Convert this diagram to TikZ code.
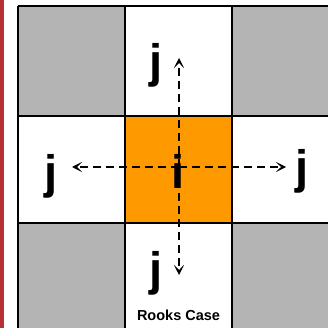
\documentclass[tikz,border=0pt]{standalone}
\usepackage{fontspec}
\setmainfont{Liberation Sans}
\definecolor{cellgray}{RGB}{180,180,180}
\definecolor{cellorange}{RGB}{255,153,0}
\definecolor{barred}{RGB}{183,48,52}
\tikzset{
    letter/.style={font=\fontsize{47}{47}\selectfont\bfseries, inner sep=0pt, anchor=base},
    move/.style={-{Stealth[length=10pt,width=10pt,inset=5pt]}, line width=1.8pt, dash pattern=on 8pt off 5pt},
    gridline/.style={line width=2pt, black}
}
\usetikzlibrary{arrows.meta}
\begin{document}
\begin{tikzpicture}[x=1pt,y=-1pt]
    \useasboundingbox (0,0) rectangle (328,328);
    \clip (0,0) rectangle (328,328);
    % 左边红条
    \fill[barred] (0,0) rectangle (4.3,328);

    % 格子
    \fill[cellgray] (18.3,5.7) rectangle (125,116);
    \fill[cellgray] (231.7,5.7) rectangle (340,116);
    \fill[cellgray] (18.3,223.3) rectangle (125,330);
    \fill[cellgray] (231.7,223.3) rectangle (340,330);
    \fill[cellorange] (125,116) rectangle (231.7,223.3);
    \foreach \x in {18.3,125,231.7}
        \draw[gridline] (\x,5.7) -- (\x,330);
    \foreach \y in {5.7,116,223.3,329.5}
        \draw[gridline] (18.3,\y) -- (340,\y);

    % 箭头端点
    \coordinate (c) at (179,167);
    \coordinate (up) at (179,58);
    \coordinate (down) at (179,275);
    \coordinate (left) at (72,167);
    \coordinate (right) at (286,167);

    % 画邻接方向
    \draw[move] (c) -- (up);
    \draw[move] (c) -- (down);
    \draw[move] (c) -- (left);
    \draw[move] (c) -- (right);

    % 设置节点
    \node[letter] (i) at (178.5,188) {i};
    \node[letter] (jup) at (156,78) {j};
    \node[letter] (jleft) at (51,188) {j};
    \node[letter] (jright) at (302,183) {j};
    \node[letter] (jdown) at (156,285) {j};
    \node[font=\fontsize{14.5}{14.5}\selectfont\bfseries, anchor=base] (title) at (178.5,320) {Rooks Case};
\end{tikzpicture}
\end{document}
